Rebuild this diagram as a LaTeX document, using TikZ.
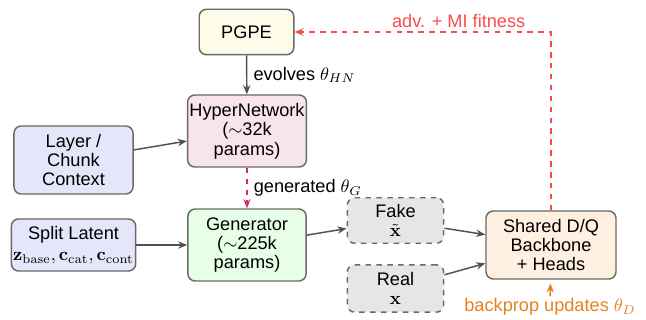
\documentclass[tikz,border=0pt]{standalone}
\usepackage{amsmath}
\usepackage[no-math]{fontspec}
\setmainfont{Liberation Sans}
\usepackage{tikz}
\usetikzlibrary{positioning, arrows.meta}
\usepackage{xcolor}

\definecolor{boxline}{RGB}{105,105,105}
\definecolor{arrowgray}{RGB}{80,80,80}
\definecolor{fitred}{RGB}{250,75,75}
\definecolor{genpink}{RGB}{210,45,105}
\definecolor{bporange}{RGB}{232,128,30}
\definecolor{pgpefill}{RGB}{254,252,232}
\definecolor{hyperfill}{RGB}{248,228,236}
\definecolor{inputfill}{RGB}{230,230,250}
\definecolor{genfill}{RGB}{230,255,230}
\definecolor{samplefill}{RGB}{230,230,230}
\definecolor{discfill}{RGB}{255,240,225}

\begin{document}
\begin{tikzpicture}[x=0.55pt, y=-0.55pt,
		font=\fontsize{10}{10.7}\selectfont,
		>={Stealth[length=5pt, width=4pt]},
		block/.style={draw=boxline, line width=0.8pt, rounded corners=4pt, align=center, inner sep=1pt},
		sample/.style={block, dashed, fill=samplefill, minimum width=53pt, minimum height=25pt},
		flow/.style={->, draw=arrowgray, line width=0.8pt}]
		\useasboundingbox (0,0) rectangle (646,320);

		% Blocks
		\node[block, fill=pgpefill, minimum width=52pt, minimum height=25pt] (pgpe) at (246.5,32) {PGPE};
		\node[block, fill=hyperfill, minimum width=65pt, minimum height=39.6pt] (hyper) at (247,131) {HyperNetwork\\($\sim$32k\\params)};
		\node[block, fill=inputfill, minimum width=65.5pt, minimum height=37.4pt] (ctx) at (73.5,160) {Layer /\\Chunk\\Context};
		\node[block, fill=inputfill, minimum width=65.5pt, minimum height=28.6pt] (latent) at (73.5,245) {Split Latent\\[1pt]$\mathbf{z}_{\mathrm{base}},\mathbf{c}_{\mathrm{cat}},\mathbf{c}_{\mathrm{cont}}$};
		\node[block, fill=genfill, minimum width=65pt, minimum height=39.6pt] (gen) at (247,245) {Generator\\($\sim$225k\\params)};
		\node[sample] (fake) at (395.5,220.5) {Fake\\$\tilde{\mathbf{x}}$};
		\node[sample, minimum height=26pt] (real) at (395.5,288.5) {Real\\$\mathbf{x}$};
		\node[block, fill=discfill, minimum width=71.5pt, minimum height=37.4pt] (disc) at (551,245) {Shared D/Q\\Backbone\\+ Heads};

		% Connections
		\draw[flow] (pgpe) -- node[right] {evolves $\theta_{HN}$} (hyper);
		\draw[flow] (ctx) -- (hyper);
		\draw[->, genpink, dashed, line width=0.8pt] (hyper) -- node[right, text=black] {generated $\theta_G$} (gen);
		\draw[flow] (latent) -- (gen);
		\draw[flow] (gen) -- (fake);
		\draw[flow] (fake) -- (disc);
		\draw[flow] (real) -- (disc);

		% Feedback
		\draw[->, fitred, dashed, line width=0.8pt] (disc.north) |- node[pos=0.68, above, inner sep=2pt] {adv. + MI fitness} (pgpe.east);
		\node[text=bporange, inner sep=1pt] (bp) at (550,307) {backprop updates $\theta_D$};
		\draw[->, bporange, line width=0.8pt, shorten >=2pt] (bp) -- (disc);
	\end{tikzpicture}
\end{document}
